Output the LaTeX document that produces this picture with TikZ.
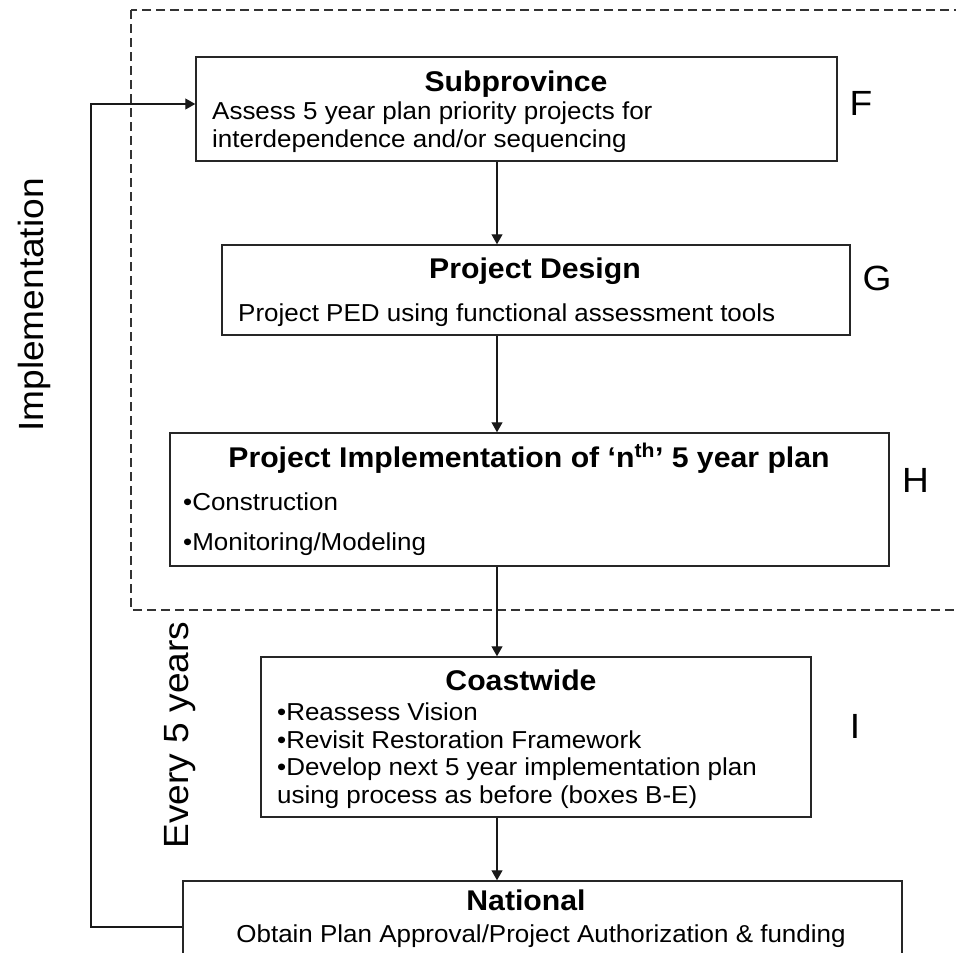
\documentclass[tikz,border=0pt]{standalone}
\usepackage{fontspec}
\setmainfont{Liberation Sans}[FakeStretch=1.06]
\usetikzlibrary{arrows.meta}

\tikzset{
  stagebox/.style={draw=black!85, line width=1.5pt, rectangle, inner sep=0pt},
  headtext/.style={font=\fontsize{28.5}{32}\selectfont\bfseries, inner sep=0pt, anchor=base},
  bodytext/.style={font=\fontsize{24.5}{28}\selectfont, inner sep=0pt, anchor=base west},
  steplabel/.style={font=\fontsize{35}{40}\selectfont, inner sep=0pt, anchor=base},
  flow/.style={line width=1.3pt, black!90, ->},
}

\begin{document}
\begin{tikzpicture}[x=1pt,y=-1pt,>={Triangle[length=10pt,width=11pt]}]
    \clip (0,0) rectangle (956,953);
    % implementation frame (runs off the right edge)
    \draw[dash pattern=on 9pt off 5pt, line width=1.4pt, black!80] (131,10) rectangle (990,610);
    % the five stages
    \node[stagebox, minimum width=641pt, minimum height=104pt] (sub) at (516.5,109) {};
    \node[stagebox, minimum width=628pt, minimum height=90pt] (design) at (536,290) {};
    \node[stagebox, minimum width=719pt, minimum height=133pt] (impl) at (529.5,499.5) {};
    \node[stagebox, minimum width=550pt, minimum height=160pt] (coast) at (536,737) {};
    \node[stagebox, minimum width=719pt, minimum height=92pt] (nat) at (542.5,927) {};
    % box texts
    \node[headtext] (sub-head) at (516,91) {Subprovince};
    \node[bodytext] (sub-l1) at (212,119) {Assess 5 year plan priority projects for};
    \node[bodytext] (sub-l2) at (212,147) {interdependence and/or sequencing};
    \node[headtext] (design-head) at (535,278) {Project Design};
    \node[bodytext] (design-l1) at (238,321) {Project PED using functional assessment tools};
    \node[headtext] (impl-head) at (529,467) {Project Implementation of ‘n\textsuperscript{th}’ 5 year plan};
    \node[bodytext] (impl-l1) at (183,510) {•Construction};
    \node[bodytext] (impl-l2) at (183,550) {•Monitoring/Modeling};
    \node[headtext] (coast-head) at (521,690) {Coastwide};
    \node[bodytext] (coast-l1) at (277,720) {•Reassess Vision};
    \node[bodytext] (coast-l2) at (277,748) {•Revisit Restoration Framework};
    \node[bodytext] (coast-l3) at (277,775) {•Develop next 5 year implementation plan};
    \node[bodytext] (coast-l4) at (277,803) {using process as before (boxes B-E)};
    \node[headtext] (nat-head) at (526,910) {National};
    \node[bodytext, anchor=base] (nat-l1) at (541,942) {Obtain Plan Approval/Project Authorization \& funding};
    % step letters
    \node[steplabel] (lab-f) at (861,115) {F};
    \node[steplabel] (lab-g) at (877,290) {G};
    \node[steplabel] (lab-h) at (915.5,492) {H};
    \node[steplabel] (lab-i) at (855,738) {I};
    % side captions
    \node[steplabel, rotate=90] (cap-impl) at (43,305) {Implementation};
    \node[steplabel, rotate=90] (cap-every) at (188,735) {Every 5 years};
    % connectors
    \coordinate (spine) at (497,0);
    \coordinate (back) at (91,927);
    \draw[flow] (sub.south -| spine) -- (design.north -| spine);
    \draw[flow] (design.south -| spine) -- (impl.north -| spine);
    \draw[flow] (impl.south -| spine) -- (coast.north -| spine);
    \draw[flow] (coast.south -| spine) -- (nat.north -| spine);
    \draw[flow] (nat.west) -- (back) |- ([yshift=5pt]sub.west);
\end{tikzpicture}
\end{document}
